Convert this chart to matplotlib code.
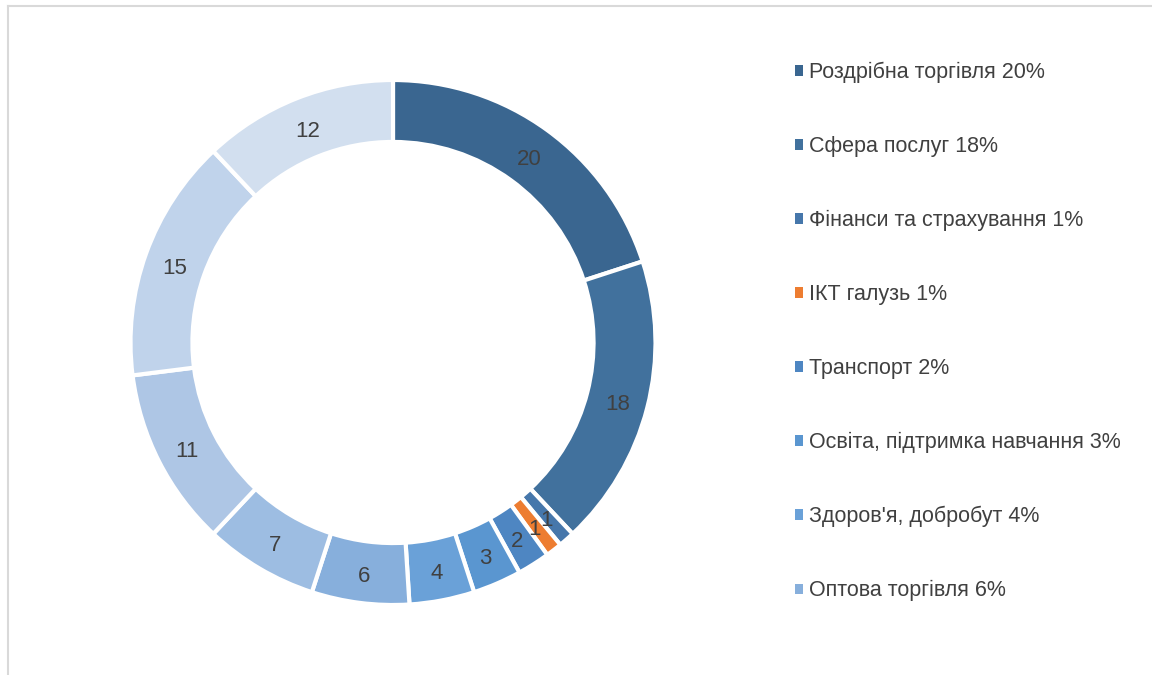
import matplotlib.pyplot as plt
import matplotlib.transforms as mtransforms
from matplotlib.patches import Patch
from matplotlib.lines import Line2D

plt.rcParams['font.family'] = ['Liberation Sans', 'DejaVu Sans']

# sectors, clockwise from 12 o'clock
values = [20, 18, 1, 1, 2, 3, 4, 6, 7, 11, 15, 12]
colors = ['#3A6690', '#41719D', '#4677AB', '#ED7D31', '#4E86C2', '#5A96D0',
          '#6AA1D8', '#87AFDC', '#9DBDE2', '#AEC6E5', '#C0D3EB', '#D2DFEF']
# only the first 8 legend entries are visible in the source
legend_names = ['Роздрібна торгівля', 'Сфера послуг', 'Фінанси та страхування',
                'ІКТ галузь', 'Транспорт', 'Освіта, підтримка навчання',
                'Здоров\'я, добробут', 'Оптова торгівля']

text_color = '#404040'
ring = 0.236

fig = plt.figure(figsize=(11.52, 6.75), dpi=100)
ax = fig.add_axes([130.5 / 1152, 70 / 675, 525 / 1152, 525 / 675])

wedges, texts, autotexts = ax.pie(
    values, colors=colors, startangle=90, counterclock=False,
    radius=1.0, autopct=lambda p: '%d' % round(p),
    pctdistance=1 - ring / 2,
    wedgeprops=dict(width=ring, edgecolor='white', linewidth=3),
    textprops=dict(color=text_color, fontsize=16))
# labels sit a few pixels lower in the source
shift = mtransforms.ScaledTranslation(0, -4 / 100, fig.dpi_scale_trans)
for t in autotexts:
    t.set_transform(t.get_transform() + shift)
ax.set_xlim(-1, 1)
ax.set_ylim(-1, 1)
ax.set_aspect('equal')
ax.axis('off')

total = sum(values)
handles = [Patch(facecolor=colors[i]) for i in range(len(legend_names))]
labels = ['%s %d%%' % (n, round(100 * values[i] / total)) for i, n in enumerate(legend_names)]
fig.legend(handles, labels, loc='upper left', bbox_to_anchor=(784 / 1152, 1 - 51 / 675),
           frameon=False, fontsize=15.5, labelcolor=text_color,
           handlelength=0.37, handleheight=0.37, handletextpad=0.3,
           labelspacing=2.46, borderpad=0)

# chart area border (right and bottom edges are cut off in the source)
frame_color = '#D9D9D9'
fig.add_artist(Line2D([8 / 1152, 1], [1 - 6 / 675, 1 - 6 / 675], color=frame_color, lw=1.5))
fig.add_artist(Line2D([8 / 1152, 8 / 1152], [1 - 6 / 675, 0], color=frame_color, lw=1.5))

fig.savefig('out.png', dpi=100, facecolor='white')
